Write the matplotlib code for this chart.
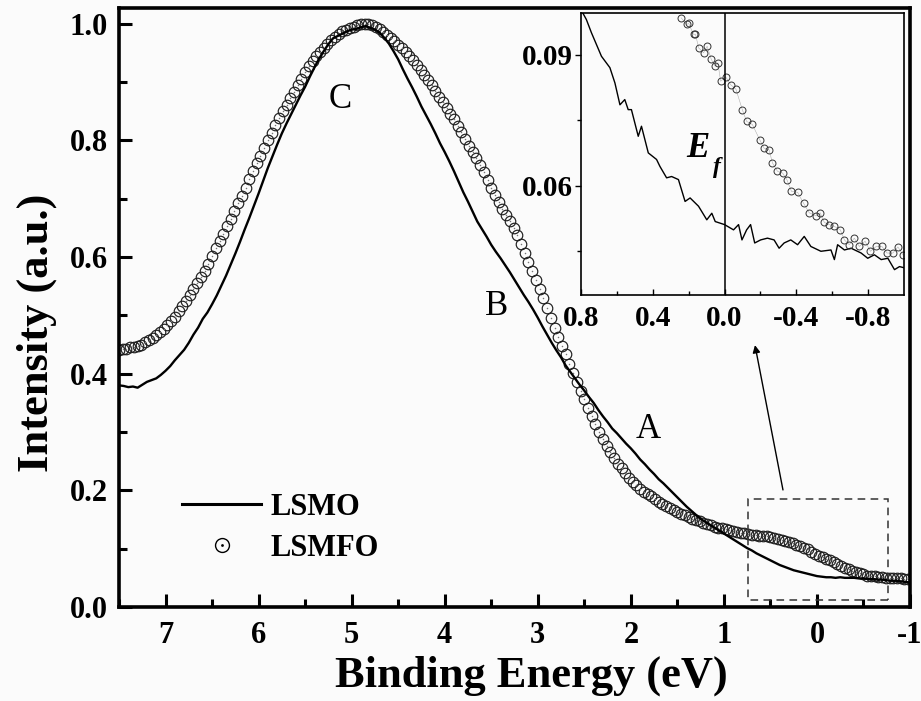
import numpy as np
import matplotlib
matplotlib.use('Agg')
import matplotlib.pyplot as plt
from matplotlib.lines import Line2D
from matplotlib.legend_handler import HandlerTuple
from matplotlib.patches import Rectangle
from matplotlib.ticker import MultipleLocator, FixedLocator, FormatStrFormatter

plt.rcParams['font.family'] = ['Liberation Serif', 'DejaVu Serif']
plt.rcParams['font.weight'] = 'bold'
plt.rcParams['axes.unicode_minus'] = False

# ---------------- data (main panel) ----------------
# LSMFO: 0.04 eV steps from 7.50 eV down to -0.98 eV
lsmfo = [0.440, 0.442, 0.443, 0.445, 0.446, 0.448, 0.450, 0.454, 0.458, 0.462,
         0.466, 0.472, 0.477, 0.484, 0.491, 0.498, 0.507, 0.516, 0.525, 0.535,
         0.545, 0.555, 0.565, 0.576, 0.588, 0.601, 0.615, 0.628, 0.640, 0.653,
         0.666, 0.679, 0.692, 0.705, 0.719, 0.733, 0.747, 0.761, 0.774, 0.787,
         0.800, 0.813, 0.826, 0.838, 0.850, 0.861, 0.872, 0.883, 0.895, 0.906,
         0.917, 0.927, 0.936, 0.944, 0.952, 0.959, 0.966, 0.972, 0.977, 0.982,
         0.987, 0.990, 0.993, 0.995, 0.997, 0.999, 1.000, 1.000, 0.998, 0.995,
         0.991, 0.986, 0.981, 0.975, 0.970, 0.964, 0.958, 0.951, 0.944, 0.937,
         0.929, 0.921, 0.912, 0.904, 0.895, 0.885, 0.875, 0.866, 0.856, 0.846,
         0.836, 0.825, 0.814, 0.802, 0.791, 0.780, 0.769, 0.757, 0.745, 0.732,
         0.719, 0.707, 0.695, 0.683, 0.672, 0.661, 0.650, 0.637, 0.622, 0.607,
         0.591, 0.576, 0.561, 0.545, 0.529, 0.512, 0.495, 0.478, 0.463, 0.448,
         0.433, 0.417, 0.401, 0.385, 0.370, 0.356, 0.342, 0.327, 0.313, 0.300,
         0.288, 0.276, 0.265, 0.255, 0.246, 0.238, 0.230, 0.222, 0.215, 0.209,
         0.203, 0.198, 0.194, 0.190, 0.185, 0.180, 0.176, 0.173, 0.169, 0.166,
         0.163, 0.160, 0.157, 0.154, 0.151, 0.149, 0.147, 0.144, 0.142, 0.140,
         0.138, 0.136, 0.135, 0.133, 0.132, 0.130, 0.128, 0.127, 0.127, 0.126,
         0.124, 0.123, 0.122, 0.122, 0.121, 0.120, 0.118, 0.117, 0.115, 0.114,
         0.112, 0.110, 0.107, 0.105, 0.102, 0.099, 0.095, 0.091, 0.088, 0.085,
         0.082, 0.080, 0.077, 0.073, 0.070, 0.067, 0.065, 0.062, 0.060, 0.058,
         0.056, 0.054, 0.053, 0.053, 0.052, 0.051, 0.050, 0.050, 0.050, 0.049,
         0.049, 0.048, 0.048]

# LSMO: 0.05 eV steps from 7.50 eV down to -1.00 eV
lsmo = [0.380, 0.379, 0.377, 0.378, 0.376, 0.381, 0.386, 0.389, 0.392, 0.398,
        0.405, 0.413, 0.423, 0.432, 0.441, 0.453, 0.467, 0.479, 0.494, 0.505,
        0.519, 0.534, 0.551, 0.568, 0.587, 0.606, 0.626, 0.647, 0.667, 0.688,
        0.709, 0.731, 0.753, 0.773, 0.793, 0.812, 0.829, 0.845, 0.861, 0.877,
        0.892, 0.909, 0.925, 0.940, 0.953, 0.965, 0.975, 0.979, 0.983, 0.987,
        0.990, 0.991, 0.994, 0.996, 0.993, 0.990, 0.985, 0.976, 0.966, 0.953,
        0.939, 0.922, 0.906, 0.891, 0.875, 0.858, 0.843, 0.828, 0.812, 0.795,
        0.780, 0.764, 0.747, 0.729, 0.711, 0.695, 0.678, 0.661, 0.648, 0.635,
        0.621, 0.609, 0.598, 0.586, 0.574, 0.561, 0.548, 0.535, 0.523, 0.510,
        0.496, 0.481, 0.467, 0.453, 0.440, 0.428, 0.414, 0.403, 0.392, 0.381,
        0.371, 0.360, 0.350, 0.338, 0.327, 0.317, 0.306, 0.298, 0.289, 0.280,
        0.272, 0.263, 0.253, 0.245, 0.236, 0.228, 0.219, 0.212, 0.204, 0.196,
        0.188, 0.180, 0.172, 0.165, 0.158, 0.151, 0.146, 0.141, 0.136, 0.131,
        0.126, 0.121, 0.116, 0.111, 0.106, 0.101, 0.097, 0.092, 0.088, 0.084,
        0.080, 0.076, 0.072, 0.069, 0.066, 0.063, 0.061, 0.059, 0.057, 0.055,
        0.053, 0.052, 0.051, 0.051, 0.050, 0.051, 0.050, 0.050, 0.050, 0.049,
        0.049, 0.048, 0.048, 0.047, 0.047, 0.046, 0.045, 0.045, 0.044, 0.043,
        0.042]

energy_lsmfo = np.round(7.5 - 0.04 * np.arange(len(lsmfo)), 2)
energy_lsmo = np.round(7.5 - 0.05 * np.arange(len(lsmo)), 2)

# ---------------- data (inset, near the Fermi level) ----------------
inset_e_lsmo = [0.790, 0.770, 0.742, 0.686, 0.639, 0.611, 0.583, 0.556, 0.537, 0.519,
                0.481, 0.463, 0.425, 0.379, 0.360, 0.323, 0.295, 0.257, 0.220, 0.192,
                0.145, 0.099, 0.071, 0.052, 0.000, -0.050, -0.078, -0.097, -0.123, -0.145,
                -0.168, -0.201, -0.239, -0.276, -0.304, -0.332, -0.369, -0.407, -0.444, -0.481,
                -0.537, -0.593, -0.612, -0.630, -0.668, -0.705, -0.761, -0.798, -0.835, -0.873,
                -0.910, -0.947, -0.975, -1.003]
inset_lsmo = [0.0995, 0.0980, 0.0950, 0.0896, 0.0870, 0.0835, 0.0785, 0.0797, 0.0774, 0.0774,
              0.0713, 0.0736, 0.0675, 0.0660, 0.0644, 0.0618, 0.0621, 0.0614, 0.0564, 0.0572,
              0.0553, 0.0522, 0.0537, 0.0518, 0.0511, 0.0499, 0.0511, 0.0476, 0.0499, 0.0511,
              0.0469, 0.0476, 0.0480, 0.0476, 0.0457, 0.0469, 0.0476, 0.0465, 0.0484, 0.0461,
              0.0450, 0.0453, 0.0431, 0.0465, 0.0453, 0.0457, 0.0446, 0.0434, 0.0442, 0.0431,
              0.0434, 0.0408, 0.0415, 0.0412]

inset_e_lsmfo = [0.242, 0.211, 0.200, 0.173, 0.162, 0.144, 0.117, 0.097, 0.074, 0.052,
                 0.037, 0.022, -0.006, -0.034, -0.063, -0.099, -0.123, -0.155, -0.196, -0.220,
                 -0.248, -0.267, -0.295, -0.323, -0.347, -0.373, -0.407, -0.440, -0.472, -0.509,
                 -0.533, -0.556, -0.584, -0.612, -0.645, -0.668, -0.695, -0.723, -0.751, -0.783,
                 -0.813, -0.845, -0.877, -0.906, -0.938, -0.966, -0.994]
inset_lsmfo = [0.0984, 0.0969, 0.0971, 0.0946, 0.0946, 0.0915, 0.0904, 0.0919, 0.0889, 0.0873,
               0.0881, 0.0839, 0.0849, 0.0831, 0.0821, 0.0774, 0.0747, 0.0740, 0.0705, 0.0686,
               0.0682, 0.0652, 0.0633, 0.0629, 0.0614, 0.0587, 0.0585, 0.0560, 0.0538, 0.0531,
               0.0538, 0.0516, 0.0511, 0.0507, 0.0499, 0.0476, 0.0465, 0.0480, 0.0461, 0.0473,
               0.0450, 0.0461, 0.0461, 0.0446, 0.0446, 0.0460, 0.0442]

labels = ['LSMO', 'LSMFO']
main_xticks = [7, 6, 5, 4, 3, 2, 1, 0, -1]
inset_xticks = [0.8, 0.4, 0.0, -0.4, -0.8]
inset_yticks = [0.06, 0.09]

bg = '#fbfbfb'
W, H = 921, 701
fig = plt.figure(figsize=(W / 100, H / 100), dpi=100, facecolor=bg)

# ---------------- main axes ----------------
ax = fig.add_axes([119 / W, 1 - 607 / H, (910 - 119) / W, (607 - 8) / H], facecolor=bg)
ax.plot(energy_lsmo, lsmo, color='k', lw=1.7, zorder=3)
ax.plot(energy_lsmfo, lsmfo, ls='none', marker='o', ms=7.6, mfc='none', mec='#1e1e1e', mew=0.85, zorder=2)
ax.plot(energy_lsmfo, lsmfo, ls='none', marker='o', ms=1.1, mfc='#777', mec='none', zorder=2)
ax.set_xlim(7.5, -1.0)
ax.set_ylim(0, 1.027)

for s in ax.spines.values():
    s.set_linewidth(2.6)
ax.xaxis.set_major_locator(FixedLocator(main_xticks))
ax.xaxis.set_minor_locator(MultipleLocator(0.5))
ax.xaxis.set_major_formatter(FormatStrFormatter('%d'))
ax.yaxis.set_major_locator(MultipleLocator(0.2))
ax.yaxis.set_minor_locator(MultipleLocator(0.1))
ax.yaxis.set_major_formatter(FormatStrFormatter('%.1f'))
ax.tick_params(which='both', direction='in', top=False, right=False, width=2.2, labelsize=22)
ax.tick_params(which='major', length=9.5)
ax.tick_params(which='minor', length=5.5)
ax.tick_params(axis='x', which='major', pad=10)
ax.tick_params(axis='y', which='major', pad=8)

ax.text(5.125, 0.870, 'C', fontsize=25, fontweight='normal', ha='center', va='center')
ax.text(3.44, 0.515, 'B', fontsize=25, fontweight='normal', ha='center', va='center')
ax.text(1.816, 0.304, 'A', fontsize=25, fontweight='normal', ha='center', va='center')

ax.add_patch(Rectangle((-0.763, 0.012), 0.741 + 0.763, 0.185 - 0.012, fill=False,
                       ls=(0, (5, 3.5)), lw=1.1, ec='#333', zorder=4))
ax.annotate('', xy=(0.666, 0.449), xytext=(0.365, 0.2007),
            arrowprops=dict(arrowstyle='-|>', color='k', lw=1.0, mutation_scale=11,
                            shrinkA=0, shrinkB=0))

h1 = Line2D([], [], color='k', lw=2.2)
h2 = (Line2D([], [], ls='none', marker='o', ms=10, mfc='none', mec='k', mew=1.0),
      Line2D([], [], ls='none', marker='o', ms=2, mfc='k', mec='none'))
leg = ax.legend([h1, h2], labels, handler_map={tuple: HandlerTuple(ndivide=1)},
                loc='center left', bbox_to_anchor=(0.0797, 0.132), frameon=False,
                borderpad=0, borderaxespad=0, handlelength=2.6, handletextpad=0.3,
                labelspacing=0.4, prop={'size': 22, 'weight': 'bold'})

fig.text(531 / W, 1 - 687 / H, 'Binding Energy (eV)', fontsize=32, fontweight='bold',
         ha='center', va='baseline')
fig.text(37 / W, 1 - 333 / H, 'Intensity (a.u.)', fontsize=32, fontweight='bold',
         ha='center', va='center', rotation=90)

# ---------------- inset ----------------
axi = fig.add_axes([581 / W, 1 - 295 / H, (904 - 581) / W, (295 - 13) / H], facecolor=bg)
axi.plot(inset_e_lsmo, inset_lsmo, color='k', lw=1.0)
axi.plot(inset_e_lsmfo, inset_lsmfo, ls='-', lw=0.4, color='#b0b0b0', marker='o', ms=5.0,
         mfc='none', mec='#333', mew=0.7)
axi.axvline(0.0, color='k', lw=1.1)
axi.set_xlim(0.8, -1.0)
axi.set_ylim(0.035, 0.0995)
for s in axi.spines.values():
    s.set_linewidth(1.2)
axi.xaxis.set_major_locator(FixedLocator(inset_xticks))
axi.xaxis.set_minor_locator(FixedLocator([0.6, 0.2, -0.2, -0.6]))
axi.xaxis.set_major_formatter(FormatStrFormatter('%.1f'))
axi.yaxis.set_major_locator(FixedLocator(inset_yticks))
axi.yaxis.set_minor_locator(FixedLocator([0.045, 0.075]))
axi.yaxis.set_major_formatter(FormatStrFormatter('%.2f'))
axi.tick_params(axis='x', which='both', direction='in', top=False, width=1.0, labelsize=21, pad=7)
axi.tick_params(axis='y', which='both', direction='out', right=False, width=1.0, labelsize=21, pad=2)
axi.tick_params(which='major', length=4)
axi.tick_params(which='minor', length=3)

axi.text(0.362, 0.520, 'E', transform=axi.transAxes, fontsize=25, fontweight='bold',
         fontstyle='italic', ha='center', va='center')
axi.text(0.420, 0.452, 'f', transform=axi.transAxes, fontsize=17, fontweight='bold',
         fontstyle='italic', ha='center', va='center')

fig.savefig('out.png', dpi=100, facecolor=bg)
